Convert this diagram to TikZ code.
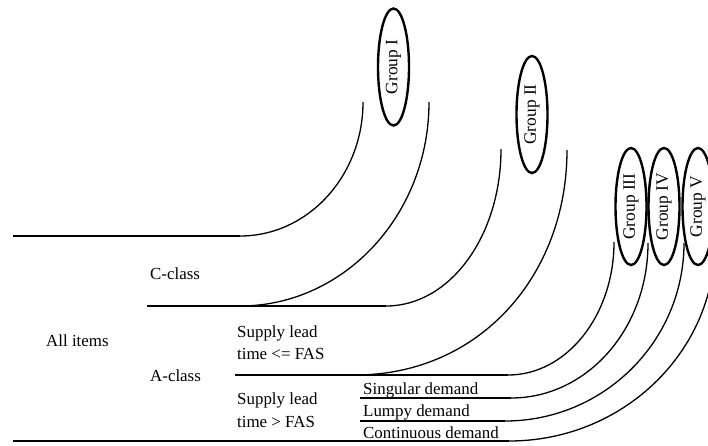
\documentclass[tikz,border=0pt]{standalone}
\usepackage{fontspec}
\setmainfont{Liberation Serif}
\usetikzlibrary{shapes.geometric}
\newcommand\lblfont{\fontsize{16.9}{19}\selectfont}
\newcommand\grpfont{\fontsize{17.4}{19}\selectfont}
\begin{document}
\begin{tikzpicture}[x=1pt,y=-1pt,
  hline/.style={line width=1.8pt},
  arcline/.style={line width=1.3pt},
  grp/.style={draw, ellipse, line width=2.4pt, minimum width=117pt,
    minimum height=31pt, inner sep=0pt, rotate=90, font=\grpfont},
  lbl/.style={anchor=base west, inner sep=0pt, font=\lblfont}]
\useasboundingbox (0,0) rectangle (708,445);
\clip (0,0) rectangle (708,445);

% group ellipses
\node[grp] (g1) at (393.5,67) {Group I};
\node[grp] (g2) at (532,114.5) {Group II};
\node[grp] (g3) at (631,206.5) {Group III};
\node[grp] (g4) at (664,206.5) {Group IV};
\node[grp] (g5) at (698,206.5) {Group V};

% end points of the horizontal levels
\coordinate (h1s) at (13,236);   \coordinate (h1e) at (240,236);
\coordinate (h2s) at (147,306);  \coordinate (h2e) at (386,306);
\coordinate (h3s) at (235,375);  \coordinate (h3e) at (508,375);
\coordinate (h4s) at (360,398);  \coordinate (h4e) at (511,398);
\coordinate (h5s) at (360,421);  \coordinate (h5e) at (505,421);
\coordinate (h6s) at (13,441);   \coordinate (h6e) at (509,441);
\coordinate (c2s) at (240,306);
\coordinate (c4s) at (355,375);

% upper ends of the sweeping curves
\coordinate (t1) at (363,102);
\coordinate (t2) at (429,102);
\coordinate (t3) at (501,149);
\coordinate (t4) at (567,150);
\coordinate (t5) at (614,242);
\coordinate (t6) at (648,243);
\coordinate (t7) at (684,243);
\coordinate (t8) at (715,243);

% horizontal levels
\draw[hline] (h1s) -- (h1e);
\draw[hline] (h2s) -- (h2e);
\draw[hline] (h3s) -- (h3e);
\draw[hline] (h4s) -- (h4e);
\draw[hline] (h5s) -- (h5e);
\draw[hline] (h6s) -- (h6e);

% curves rising to the groups
\draw[arcline] (h1e) .. controls (308,236) and (363,176) .. (t1);
\draw[arcline] (c2s) .. controls (344,306) and (429,215) .. (t2);
\draw[arcline] (h2e) .. controls (450,306) and (501,236) .. (t3);
\draw[arcline] (c4s) .. controls (480,375) and (567,275) .. (t4);
\draw[arcline] (h3e) .. controls (567,375) and (614,315) .. (t5);
\draw[arcline] (h4e) .. controls (587,398) and (648,329) .. (t6);
\draw[arcline] (h5e) .. controls (604,421) and (684,341) .. (t7);
\draw[arcline] (h6e) .. controls (623,441) and (715,352) .. (t8);

% labels
\node[lbl] (allitems) at (46,346) {All items};
\node[lbl] (cclass) at (150,279) {C-class};
\node[lbl] (aclass) at (150,381) {A-class};
\node[lbl] (sl1a) at (237,337) {Supply lead};
\node[lbl] (sl1b) at (237,359) {time <= FAS};
\node[lbl] (sl2a) at (237,404) {Supply lead};
\node[lbl] (sl2b) at (237,427) {time > FAS};
\node[lbl] (sing) at (363,394) {Singular demand};
\node[lbl] (lump) at (363,416) {Lumpy demand};
\node[lbl] (cont) at (363,438) {Continuous demand};
\end{tikzpicture}
\end{document}
